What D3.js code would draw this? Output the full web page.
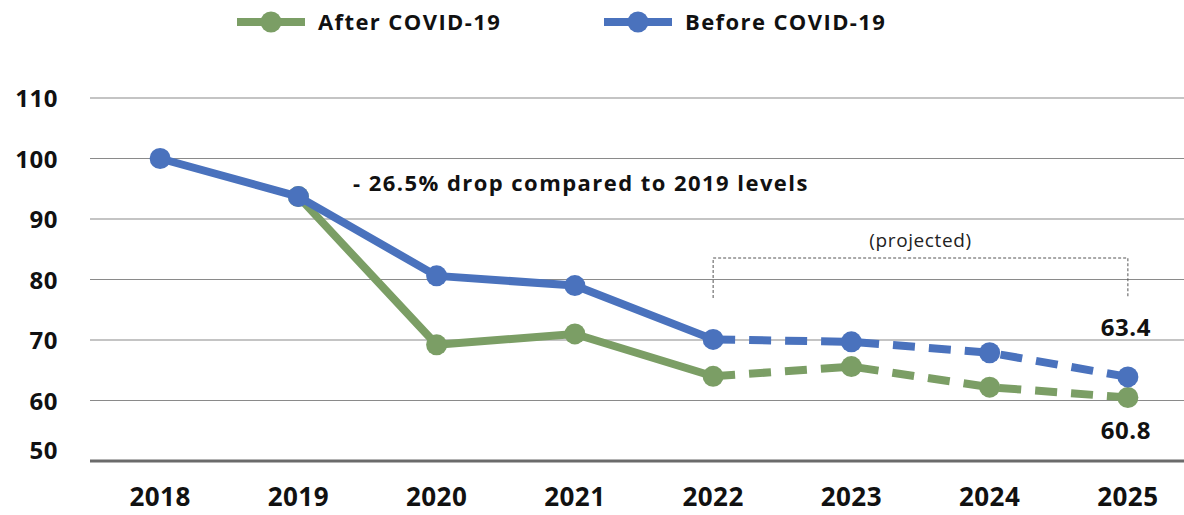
<!DOCTYPE html>
<html><head><meta charset="utf-8">
<script src="https://cdn.jsdelivr.net/npm/d3@7"></script>
<style>
html,body{margin:0;padding:0;background:#fff;}
svg{display:block;}
text{font-family:"Open Sans",Lato,sans-serif;}
</style></head>
<body>
<svg id="c" width="1184" height="515"></svg>
<script>
const years = ["2018","2019","2020","2021","2022","2023","2024","2025"];
const beforeValues = [100, 93.7, 80.6, 79.0, 70.1, 69.7, 67.9, 63.9];
const afterValues = [null, 93.7, 69.2, 71.0, 64.0, 65.6, 62.2, 60.5];
const yTicks = [50, 60, 70, 80, 90, 100, 110];
const seriesNames = ["After COVID-19", "Before COVID-19"];
const projectedFrom = "2022";
const endLabels = ["63.4", "60.8"];
const annotation = "- 26.5% drop compared to 2019 levels";
const projectedLabel = "(projected)";

const green = "#7b9e65", blue = "#4a72bd";
const svg = d3.select("#c");
const x = d3.scaleBand().domain(years).range([91, 1197]);
const cx = d => x(d) + x.bandwidth()/2;
const y = d3.scaleLinear().domain([50, 110]).range([461, 98]);

// gridlines
svg.append("g").selectAll("line").data(yTicks.filter(t => t > 50)).join("line")
  .attr("x1", 90).attr("x2", 1184).attr("y1", d => y(d)).attr("y2", d => y(d))
  .attr("stroke", "#8a8a8a").attr("stroke-width", 1.2);
svg.append("line").attr("x1", 90).attr("x2", 1184).attr("y1", y(50)).attr("y2", y(50))
  .attr("stroke", "#6b6b6b").attr("stroke-width", 3);

// y labels
svg.append("g").selectAll("text").data(yTicks).join("text")
  .attr("x", 58).attr("y", d => y(d) + (d === 50 ? -2 : 9))
  .attr("text-anchor", "end").attr("font-size", 24).attr("font-weight", 700)
  .attr("letter-spacing", 0.5)
  .attr("fill", "#111").text(d => d);

// x labels
svg.append("g").selectAll("text").data(years).join("text")
  .attr("x", d => cx(d)).attr("y", 506)
  .attr("text-anchor", "middle").attr("font-size", 26).attr("font-weight", 700)
  .attr("letter-spacing", 0.4)
  .attr("fill", "#111").text(d => d);

// projected bracket
const pIdx = years.indexOf(projectedFrom);
const bx1 = cx(projectedFrom), bx2 = cx(years[years.length-1]);
svg.append("path")
  .attr("d", `M${bx1},298V258H${bx2}V298`)
  .attr("fill", "none").attr("stroke", "#555").attr("stroke-width", 1).attr("stroke-dasharray", "3,2");
svg.append("text").attr("x", (bx1+bx2)/2).attr("y", 247).attr("text-anchor", "middle")
  .attr("font-size", 19).attr("letter-spacing", 0.6).attr("fill", "#222").text(projectedLabel);

function drawSeries(vals, color) {
  const pts = years.map((yr, i) => ({yr, v: vals[i], i})).filter(p => p.v != null);
  const line = d3.line().x(p => cx(p.yr)).y(p => y(p.v));
  const solid = pts.filter(p => p.i <= pIdx);
  const dashed = pts.filter(p => p.i >= pIdx);
  svg.append("path").attr("d", line(solid)).attr("fill", "none")
    .attr("stroke", color).attr("stroke-width", 8).attr("stroke-linejoin", "round");
  svg.append("path").attr("d", line(dashed)).attr("fill", "none")
    .attr("stroke", color).attr("stroke-width", 8).attr("stroke-dasharray", "22,14");
  svg.append("g").selectAll("circle").data(pts).join("circle")
    .attr("cx", p => cx(p.yr)).attr("cy", p => y(p.v)).attr("r", 10.5).attr("fill", color);
}
drawSeries(afterValues, green);
drawSeries(beforeValues, blue);

// end labels
const last = years[years.length-1];
svg.append("text").attr("x", cx(last) - 2).attr("y", 336).attr("text-anchor", "middle")
  .attr("font-size", 24).attr("font-weight", 700).attr("letter-spacing", 0.5).attr("fill", "#111").text(endLabels[0]);
svg.append("text").attr("x", cx(last) - 2).attr("y", 439).attr("text-anchor", "middle")
  .attr("font-size", 24).attr("font-weight", 700).attr("letter-spacing", 0.5).attr("fill", "#111").text(endLabels[1]);

// annotation
svg.append("text").attr("x", 353).attr("y", 191).attr("font-size", 22).attr("font-weight", 700)
  .attr("letter-spacing", 1.45).attr("fill", "#111").text(annotation);

// legend
const legend = [{name: seriesNames[0], color: green, x: 237}, {name: seriesNames[1], color: blue, x: 604}];
const lg = svg.append("g").selectAll("g").data(legend).join("g");
lg.append("line").attr("x1", d => d.x).attr("x2", d => d.x + 68).attr("y1", 22).attr("y2", 22)
  .attr("stroke", d => d.color).attr("stroke-width", 8);
lg.append("circle").attr("cx", d => d.x + 34).attr("cy", 22).attr("r", 10.5).attr("fill", d => d.color);
lg.append("text").attr("x", d => d.x + 81).attr("y", 30).attr("font-size", 22).attr("font-weight", 700)
  .attr("letter-spacing", 1.4).attr("fill", "#111").text(d => d.name);
</script>
</body></html>
